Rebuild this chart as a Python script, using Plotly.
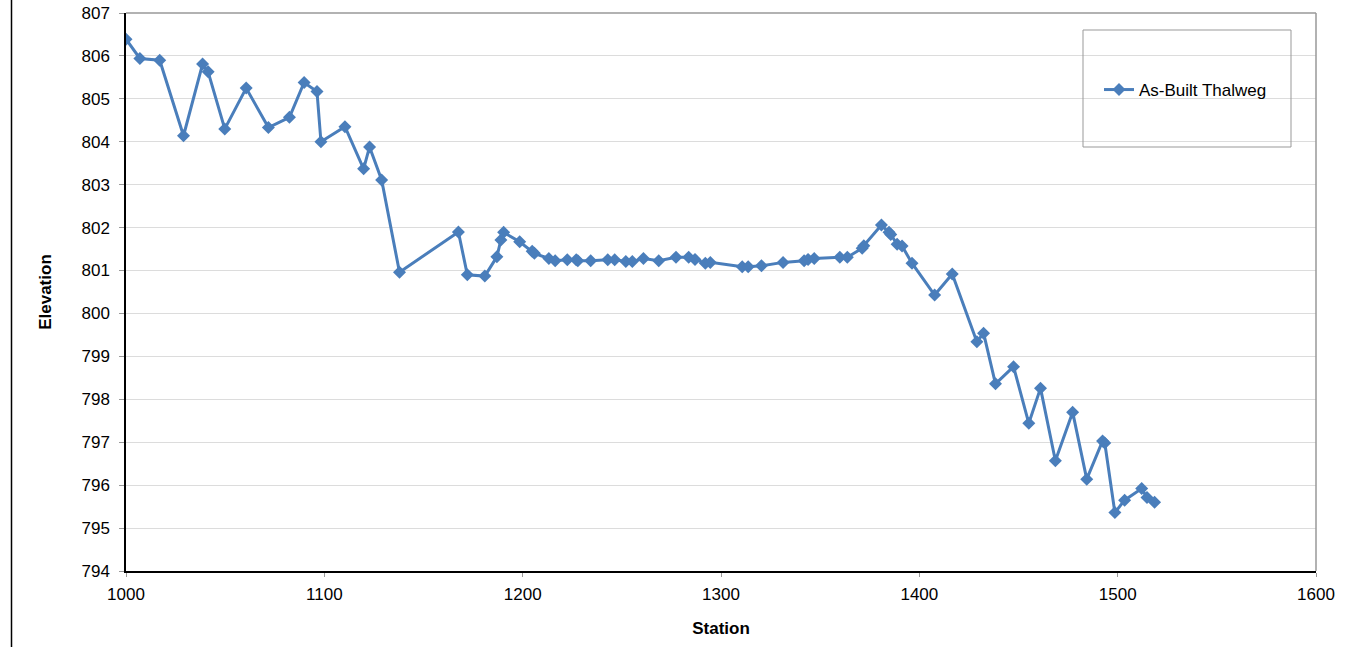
import plotly.graph_objects as go

station = [1000.0, 1007.0, 1017.0, 1029.0, 1038.6, 1041.4, 1049.8, 1060.6, 1071.8, 1082.4,
           1089.8, 1096.3, 1098.3, 1110.4, 1119.8, 1122.8, 1128.9, 1137.9, 1167.6, 1172.1,
           1180.9, 1187.0, 1189.0, 1190.4, 1198.5, 1204.8, 1205.9, 1213.2, 1216.4, 1222.5,
           1227.0, 1227.8, 1234.3, 1242.9, 1246.4, 1252.0, 1255.3, 1260.9, 1268.6, 1277.3,
           1283.7, 1286.9, 1292.1, 1294.6, 1310.7, 1313.7, 1320.4, 1331.3, 1341.9, 1343.9,
           1347.0, 1359.9, 1363.7, 1371.2, 1372.0, 1380.9, 1384.7, 1385.6, 1388.8, 1391.3,
           1396.3, 1407.7, 1416.6, 1429.0, 1432.4, 1438.4, 1447.5, 1455.2, 1461.1, 1468.6,
           1477.3, 1484.4, 1492.4, 1493.5, 1498.6, 1503.5, 1512.1, 1514.8, 1518.6]

elevation = [806.39, 805.94, 805.90, 804.14, 805.81, 805.63, 804.30, 805.25, 804.33, 804.57,
             805.38, 805.17, 804.00, 804.35, 803.37, 803.88, 803.11, 800.96, 801.90, 800.90,
             800.87, 801.32, 801.71, 801.89, 801.67, 801.45, 801.40, 801.28, 801.23, 801.25,
             801.25, 801.23, 801.23, 801.25, 801.25, 801.21, 801.21, 801.28, 801.23, 801.31,
             801.31, 801.26, 801.17, 801.19, 801.09, 801.09, 801.11, 801.19, 801.23, 801.26,
             801.28, 801.31, 801.31, 801.52, 801.58, 802.06, 801.89, 801.84, 801.61, 801.57,
             801.17, 800.43, 800.92, 799.34, 799.54, 798.36, 798.76, 797.44, 798.26, 796.57,
             797.70, 796.14, 797.03, 796.98, 795.36, 795.65, 795.92, 795.71, 795.60]

series_name = "As-Built Thalweg"
x_ticks = [1000, 1100, 1200, 1300, 1400, 1500, 1600]
y_ticks = list(range(794, 808))

BLUE = "#4A7EBB"
FONT = "Liberation Sans, Arial, sans-serif"
FS = 17

W, H = 1359, 647
L, R, T, B = 126, 43, 13, 76
pw, ph = W - L - R, H - T - B


def px2paper_x(px):
    return (px - L) / pw


def px2paper_y(py):
    return (H - B - py) / ph


fig = go.Figure()
fig.add_trace(go.Scatter(
    x=station, y=elevation, mode="lines+markers", name=series_name,
    line=dict(color=BLUE, width=3),
    marker=dict(symbol="diamond", size=10, color=BLUE),
))

fig.update_layout(
    width=W, height=H,
    margin=dict(l=L, r=R, t=T, b=B, pad=0),
    paper_bgcolor="white", plot_bgcolor="white",
    font=dict(family=FONT, size=FS, color="black"),
    showlegend=True,
    legend=dict(
        x=px2paper_x(1099), y=px2paper_y(90), xanchor="left", yanchor="middle",
        bgcolor="rgba(0,0,0,0)", borderwidth=0,
        font=dict(family=FONT, size=FS, color="black"),
        itemwidth=30,
    ),
    xaxis=dict(
        range=[1000, 1600], tickvals=x_ticks, ticktext=[str(v) for v in x_ticks],
        showgrid=False, zeroline=False, automargin=False,
        showline=True, linecolor="black", linewidth=1.5, mirror=False,
        ticks="outside", ticklen=4, tickcolor="#999999", ticklabelstandoff=3,
        ticklabeloverflow="allow",
        title=dict(text="<b>Station</b>", font=dict(family=FONT, size=FS), standoff=19),
    ),
    yaxis=dict(
        range=[794, 807], tickvals=y_ticks, ticktext=[str(v) for v in y_ticks],
        showgrid=True, gridcolor="#dcdcdc", gridwidth=1, zeroline=False, automargin=False,
        showline=True, linecolor="black", linewidth=1.5,
        ticks="outside", ticklen=5, tickcolor="#999999", ticklabelstandoff=6,
        ticklabeloverflow="allow",
        title=dict(text="<b>Elevation</b>", font=dict(family=FONT, size=FS), standoff=26),
    ),
    shapes=[
        dict(type="line", xref="paper", yref="paper", x0=0, x1=1, y0=1, y1=1,
             line=dict(color="#999999", width=1.5)),
        dict(type="line", xref="paper", yref="paper", x0=1, x1=1, y0=0, y1=1,
             line=dict(color="#999999", width=1.5)),
        dict(type="rect", xref="paper", yref="paper",
             x0=px2paper_x(1083), x1=px2paper_x(1291),
             y0=px2paper_y(147), y1=px2paper_y(30),
             line=dict(color="#999999", width=1), fillcolor="rgba(0,0,0,0)", layer="above"),
        dict(type="line", xref="paper", yref="paper",
             x0=px2paper_x(11.5), x1=px2paper_x(11.5), y0=px2paper_y(0), y1=px2paper_y(647),
             line=dict(color="black", width=1.5)),
    ],
)

fig.write_html(
    "out.html",
    config={"displayModeBar": False},
    post_script="document.body.style.margin='0';document.body.style.overflow='hidden';",
)
